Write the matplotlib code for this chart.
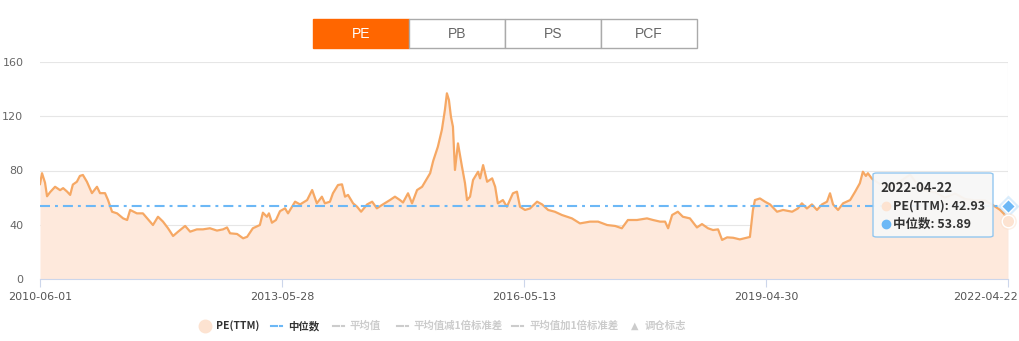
import matplotlib.pyplot as plt
import matplotlib.transforms as mtransforms
from matplotlib.patches import Rectangle, FancyBboxPatch
from matplotlib.lines import Line2D

plt.rcParams['font.family'] = ['Noto Sans CJK SC', 'DejaVu Sans']

# 交易日序号 (0 = 2010-06-01, 2888 = 2022-04-22) 和 PE(TTM)
day_idx = [0, 6, 15, 21, 30, 45, 60, 69, 81, 90, 98, 110, 119, 128, 140, 155, 170, 179, 194, 203,
           215, 230, 248, 260, 269, 289, 307, 328, 337, 352, 367, 382, 397, 412, 433, 448, 468, 486,
           507, 528, 546, 558, 567, 588, 606, 618, 635, 656, 665, 677, 683, 692, 704, 716, 731, 740,
           761, 776, 797, 812, 826, 841, 850, 865, 874, 889, 901, 910, 919, 934, 946, 958, 976, 991,
           1005, 1023, 1044, 1059, 1074, 1083, 1098, 1110, 1125, 1140, 1149, 1164, 1173, 1187, 1199,
           1208, 1214, 1220, 1226, 1232, 1238, 1247, 1259, 1268, 1274, 1283, 1292, 1307, 1313, 1322,
           1334, 1349, 1358, 1366, 1381, 1393, 1411, 1423, 1432, 1447, 1462, 1483, 1498, 1516, 1536,
           1557, 1587, 1611, 1641, 1665, 1692, 1716, 1736, 1754, 1781, 1811, 1829, 1850, 1865, 1874,
           1886, 1903, 1918, 1939, 1960, 1975, 1993, 2008, 2023, 2035, 2050, 2068, 2088, 2109, 2118,
           2127, 2133, 2148, 2163, 2178, 2199, 2217, 2244, 2261, 2273, 2288, 2303, 2318, 2333, 2348,
           2357, 2366, 2381, 2396, 2417, 2432, 2446, 2455, 2464, 2470, 2482, 2506, 2536, 2566, 2596,
           2611, 2640, 2670, 2700, 2730, 2760, 2790, 2819, 2840, 2864, 2876, 2888]
pe_ttm = [70, 78, 71, 61, 64, 68, 65.5, 67, 64.4, 62, 69.6, 71.7, 76, 76.7, 71.7, 63.3, 68, 63.3, 63.3, 58.2,
          49.6, 48.4, 44.7, 43.5, 50.9, 48.4, 48.4, 42.3, 39.8, 45.9, 42.3, 37.4, 31.7, 34.9, 39.1, 34.9, 36.6, 36.6,
          37.4, 35.7, 36.6, 38, 33.7, 33.2, 30, 31.1, 37.4, 39.8, 48.9, 45.9, 48.4, 41.5, 43.5, 50, 52.1, 48.4,
          57, 55, 58.2, 65.6, 55.8, 60.7, 55.8, 57, 63.2, 69.3, 69.8, 60.7, 62, 55.8, 53.3, 49.6, 55, 57,
          52.1, 55, 58.2, 60.7, 58.2, 56.4, 63.2, 55.8, 65.6, 68, 71.7, 78, 87, 97.5, 110,
          124.6, 136.9, 132, 119.7, 112.3, 80.4, 100, 82.8, 70.6, 58.2, 60.7, 73, 79.1, 74.2, 84,
          71.7, 74.2, 68, 55.8, 58.2, 53.3, 63.2, 64.4, 53.3, 50.9, 52, 57, 55, 50.9, 49.6,
          47.2, 44.7, 41, 42.3, 42.3, 39.8, 39.1, 37.4, 43.5, 43.5, 44.7, 43.5, 42.3, 42.3, 37.4,
          47.2, 49.6, 45.9, 44.7, 38, 40.5, 37.4, 36.1, 36.6, 28.8, 30.7, 30.4, 29.2, 30.5, 31,
          50.9, 58.2, 59.4, 57, 55, 49.6, 50.9, 49.6, 52, 55.8, 52, 55, 50.9, 55, 57,
          63.2, 55, 50.9, 55.8, 58.2, 64.4, 70.6, 79.1, 76, 78, 74, 70, 68, 72, 77,
          72, 65, 64, 60, 63, 59, 58, 58, 55, 51, 48, 42.93]
median_pe = 53.89
tick_idx = [0, 722, 1444, 2166, 2888]
tick_labels = ['2010-06-01', '2013-05-28', '2016-05-13', '2019-04-30', '2022-04-22']
y_ticks = [0, 40, 80, 120, 160]
tabs = ['PE', 'PB', 'PS', 'PCF']

fig = plt.figure(figsize=(10.2, 3.41), dpi=100)
ax = fig.add_axes([40 / 1020, 62 / 341, 968 / 1020, 217 / 341])

ax.fill_between(day_idx, pe_ttm, 0, color='#fee9dc', lw=0)
ax.plot(day_idx, pe_ttm, color='#f6a864', lw=1.6, solid_joinstyle='round')
ax.axhline(median_pe, color='#6cb8f6', lw=1.5, ls=(0, (4.8, 2.4, 1.4, 2.4)))
ax.axvline(day_idx[-1], color='#dddddd', lw=0.8)

# 当前点标记
ax.plot(day_idx[-1], median_pe, marker='D', ms=11, color='#6cb8f6', alpha=0.25, clip_on=False, mec='none')
ax.plot(day_idx[-1], median_pe, marker='D', ms=7, color='#6cb8f6', mec='white', mew=1, clip_on=False)
ax.plot(day_idx[-1], pe_ttm[-1], marker='o', ms=12, color='#fde0cc', alpha=0.5, clip_on=False, mec='none')
ax.plot(day_idx[-1], pe_ttm[-1], marker='o', ms=9, color='#fde3d1', mec='white', mew=1, clip_on=False)

ax.set_xlim(0, 2888)
ax.set_ylim(0, 160)
ax.set_yticks(y_ticks)
ax.set_yticklabels([str(v) for v in y_ticks], fontsize=8, color='#666666', family='DejaVu Sans')
ax.set_xticks(tick_idx)
ax.set_xticklabels(tick_labels, fontsize=8, color='#555555', family='DejaVu Sans')
ax.tick_params(axis='y', length=0, pad=12)
ax.tick_params(axis='x', length=6, color='#ccd6eb', pad=3)
# 最后一个日期标签向左收进画布
last = ax.get_xticklabels()[-1]
last.set_horizontalalignment('right')
last.set_transform(last.get_transform() + mtransforms.ScaledTranslation(10 / 100, 0, fig.dpi_scale_trans))
ax.grid(axis='y', color='#e6e6e6', lw=0.8)
ax.set_axisbelow(True)
for s in ['top', 'right', 'left']:
    ax.spines[s].set_visible(False)
ax.spines['bottom'].set_color('#ccd6eb')

# 顶部切换按钮
for i, t in enumerate(tabs):
    x0 = (313 + 96 * i) / 1020
    active = i == 0
    fig.patches.append(Rectangle((x0, 1 - 48 / 341), 96 / 1020, 29 / 341, transform=fig.transFigure,
                                 facecolor='#ff6600' if active else 'white',
                                 edgecolor='#ff6600' if active else '#aaaaaa', lw=1))
    fig.text(x0 + 48 / 1020, 1 - 34 / 341, t, ha='center', va='center', fontsize=10,
             family='Liberation Sans', color='white' if active else '#666666')

# 提示框
fig.patches.append(FancyBboxPatch((873 / 1020, 1 - 237 / 341), 120 / 1020, 64 / 341,
                                  boxstyle='round,pad=0,rounding_size=0.004', transform=fig.transFigure,
                                  facecolor='#f7f7f7', edgecolor='#8ec5f0', lw=1, alpha=0.95))
fig.text(880 / 1020, 1 - 188 / 341, '2022-04-22', fontsize=9.5, fontweight='bold', color='#333333', va='center')
fig.lines.append(Line2D([886 / 1020], [1 - 206 / 341], marker='o', ms=6, color='#fde3d1',
                        transform=fig.transFigure))
fig.text(893 / 1020, 1 - 206 / 341, 'PE(TTM): 42.93', fontsize=9, fontweight='bold', color='#333333', va='center')
fig.lines.append(Line2D([886 / 1020], [1 - 224 / 341], marker='o', ms=6, color='#6cb8f6',
                        transform=fig.transFigure))
fig.text(893 / 1020, 1 - 224 / 341, '中位数: 53.89', fontsize=9, fontweight='bold', color='#333333', va='center')

# 底部图例
ly = 1 - 326 / 341
fig.lines.append(Line2D([205 / 1020], [ly], marker='o', ms=9, color='#fde3d1', transform=fig.transFigure))
fig.text(216 / 1020, ly, 'PE(TTM)', fontsize=7.5, fontweight='bold', color='#333333', va='center')
legend_items = [(271, '中位数', '#6cb8f6', '#333333'),
                (333, '平均值', '#cccccc', '#cccccc'),
                (397, '平均值减1倍标准差', '#cccccc', '#cccccc'),
                (512, '平均值加1倍标准差', '#cccccc', '#cccccc')]
for x, label, lc, tc in legend_items:
    fig.lines.append(Line2D([x / 1020, (x + 6) / 1020], [ly, ly], color=lc, lw=1.5, transform=fig.transFigure))
    fig.lines.append(Line2D([(x + 9) / 1020, (x + 11) / 1020], [ly, ly], color=lc, lw=1.5, transform=fig.transFigure))
    fig.text((x + 17) / 1020, ly, label, fontsize=7.5, fontweight='bold', color=tc, va='center')
fig.text(631 / 1020, ly, '▲', fontsize=7, color='#cccccc', va='center', family='DejaVu Sans')
fig.text(645 / 1020, ly, '调仓标志', fontsize=7.5, fontweight='bold', color='#cccccc', va='center')

fig.savefig('out.png', dpi=100)
